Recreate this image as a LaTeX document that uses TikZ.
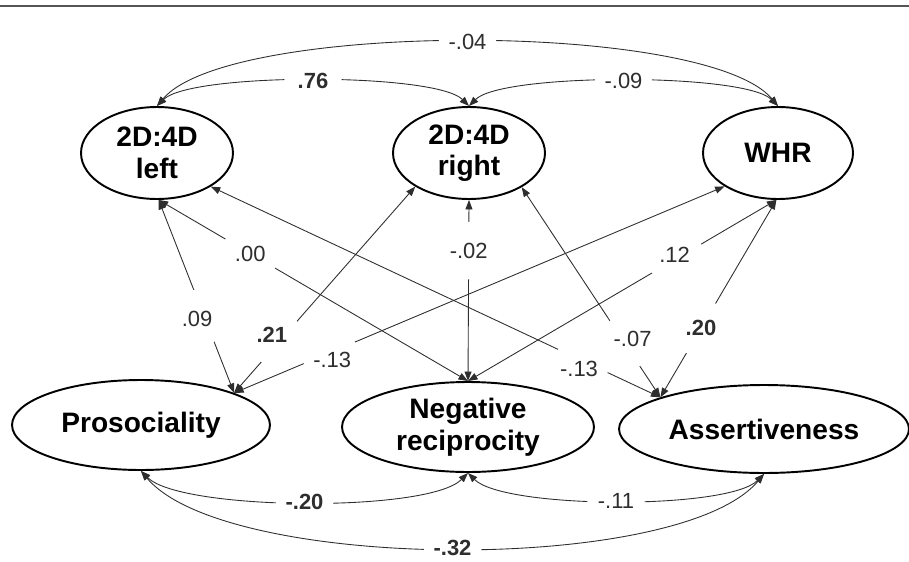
\documentclass[tikz,border=0pt]{standalone}
\usepackage{fontspec}
\setmainfont{Liberation Sans}
\usetikzlibrary{arrows.meta, shapes.geometric}
\definecolor{lcol}{HTML}{2E2E2E}
\definecolor{rcol}{HTML}{555555}

\begin{document}
\begin{tikzpicture}[x=0.02cm, y=0.02cm, >={Triangle[length=1.9mm, width=1.4mm]},
  latent/.style={draw, ellipse, line width=1.1pt, align=center, inner sep=0pt,
    font=\fontsize{16}{18}\selectfont\bfseries},
  cov/.style={<->, lcol, line width=0.5pt},
  coef/.style={circle, fill=white, inner sep=0pt, minimum size=1.15cm,
    font=\fontsize{12.5}{14}\selectfont},
  sig/.style={coef, font=\fontsize{12.5}{14}\selectfont\bfseries}]
\useasboundingbox (0,0) rectangle (909,-561);
\draw[rcol, line width=0.6pt] (0,-6) -- (909,-6);
% top row
\node[latent, minimum width=3.04cm, minimum height=1.84cm] (left) at (157,-153) {2D:4D\\left};
\node[latent, minimum width=3.04cm, minimum height=1.84cm] (right) at (469,-153) {2D:4D\\right};
\node[latent, minimum width=3.0cm, minimum height=1.84cm] (whr) at (778,-153) {WHR};
% bottom row
\node[latent, minimum width=5.16cm, minimum height=1.8cm] (pro) at (141,-425) {Prosociality};
\node[latent, minimum width=5.04cm, minimum height=1.8cm] (neg) at (468,-427) {Negative\\reciprocity};
\node[latent, minimum width=5.8cm, minimum height=1.76cm] (ass) at (764,-429) {Assertiveness};
% correlations between the rows
\draw[cov] (left.-88) -- node[coef, pos=0.615, xshift=-0.16cm] {.09} (pro.19);
\draw[cov] (left.-88) -- node[coef, pos=0.296] {.00} (neg.north);
\draw[cov] (left.-32) -- node[coef, pos=0.819, yshift=-0.2cm] {-.13} (ass.163);
\draw[cov] (right.-148) -- node[sig, pos=0.72, xshift=-0.26cm] {.21} (pro.19);
\draw[cov] (right.south) -- node[coef, pos=0.28] {-.02} (neg.north);
\draw[cov] (right.-33) -- node[coef, pos=0.72, xshift=0.22cm] {-.07} (ass.163);
\draw[cov] (whr.-148) -- node[coef, pos=0.8, yshift=-0.16cm] {-.13} (pro.19);
\draw[cov] (whr.-92) -- node[coef, pos=0.33, yshift=0.09cm] {.12} (neg.north);
\draw[cov] (whr.-92) -- node[sig, pos=0.65] {.20} (ass.163);
% correlations within the rows
\draw[cov] (left.north) to[out=45, in=135, looseness=0.39] node[sig] {.76} (right.north);
\draw[cov] (right.north) to[out=45, in=135, looseness=0.39] node[coef] {-.09} (whr.north);
\draw[cov] (left.north) to[out=50, in=130, looseness=0.46] node[coef] {-.04} (whr.north);
\draw[cov] (pro.south) to[out=-45, in=-135, looseness=0.44] node[sig] {-.20} (neg.south);
\draw[cov] (neg.south) to[out=-45, in=-135, looseness=0.44] node[coef] {-.11} (ass.south);
\draw[cov] (pro.south) to[out=-50, in=-130, looseness=0.54] node[sig] {-.32} (ass.south);
\end{tikzpicture}
\end{document}
